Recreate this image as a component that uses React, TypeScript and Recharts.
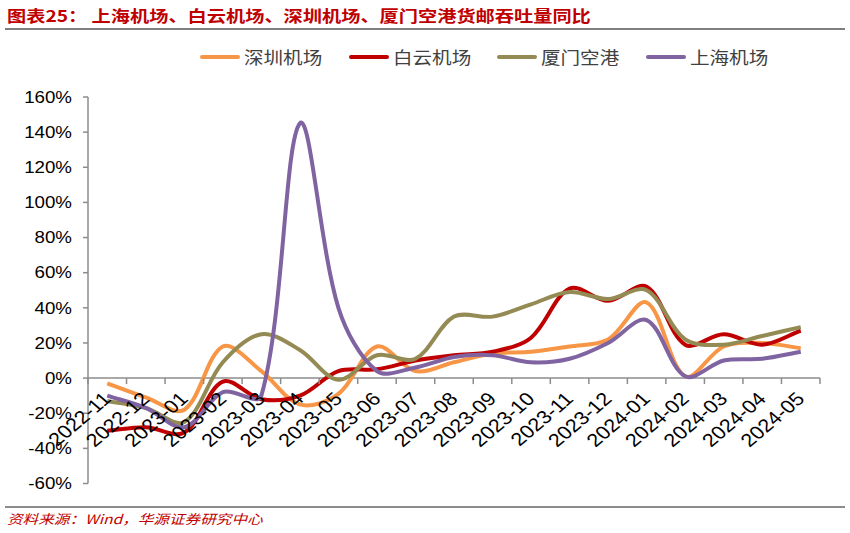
import React from 'react';
import { LineChart, Line, XAxis, YAxis, ReferenceLine } from 'recharts';

const MONTHS = ['2022-11','2022-12','2023-01','2023-02','2023-03','2023-04','2023-05','2023-06','2023-07','2023-08','2023-09','2023-10','2023-11','2023-12','2024-01','2024-02','2024-03','2024-04','2024-05'];
const SHENZHEN = [-3, -11, -18, 18, 4, -15, -9, 18, 4, 9, 14, 15, 18, 22, 43, 1, 18, 20, 17];
const BAIYUN = [-30, -28, -31, -2, -12, -10, 4, 5, 10, 13, 15, 23, 51, 44, 52, 19, 25, 19, 27];
const XIAMEN = [-13, -17, -25, 9, 25, 16, -1, 13, 11, 35, 35, 42, 49, 45, 50, 22, 19, 24, 29];
const SHANGHAI = [-10, -17, -28, -8, -10, 145, 40, 4, 6, 12, 13, 9, 11, 20, 33, 1, 10, 11, 15];
const Y_TICKS = [-60, -40, -20, 0, 20, 40, 60, 80, 100, 120, 140, 160];

const TITLE = '图表25：  上海机场、白云机场、深圳机场、厦门空港货邮吞吐量同比';
const SOURCE = '资料来源：Wind，华源证券研究中心';

const SERIES = [
  { key: 'shenzhen', name: '深圳机场', color: '#F79646', values: SHENZHEN },
  { key: 'baiyun', name: '白云机场', color: '#C00000', values: BAIYUN },
  { key: 'xiamen', name: '厦门空港', color: '#948A54', values: XIAMEN },
  { key: 'shanghai', name: '上海机场', color: '#8064A2', values: SHANGHAI },
];

const data = MONTHS.map((m, i) => {
  const row: any = { month: m };
  SERIES.forEach((s) => { row[s.key] = s.values[i]; });
  return row;
});

// layout
const CHART_W = 850;
const CHART_H = 533;
const Y_AXIS_W = 88;
const X_AXIS_H = 20;
const MARGIN = { top: 97, right: 30, bottom: 29.5, left: 0 };
const PLOT_TOP = MARGIN.top;
const PLOT_BOTTOM = CHART_H - MARGIN.bottom - X_AXIS_H;
const Y_MIN = -60;
const Y_MAX = 160;
const ZERO_Y = PLOT_TOP + (PLOT_BOTTOM - PLOT_TOP) * (Y_MAX - 0) / (Y_MAX - Y_MIN);
const BAND = (CHART_W - MARGIN.right - Y_AXIS_W - MARGIN.left) / MONTHS.length;
const AXIS_COLOR = '#8c8c8c';
const STRETCH = 1.17;
const NUM_FONT = '"Liberation Sans", Arial, sans-serif';
const CJK_FONT = '"Noto Sans CJK SC", "Noto Sans", sans-serif';

// Excel-like smoothing curve (distance weighted Catmull-Rom)
const smoothCurve = (context: any) => {
  let pts: number[][] = [];
  const dist = (a: number[], b: number[]) => Math.hypot(b[0] - a[0], b[1] - a[1]);
  return {
    areaStart() {},
    areaEnd() {},
    lineStart() { pts = []; },
    point(x: number, y: number) { pts.push([+x, +y]); },
    lineEnd() {
      const n = pts.length;
      if (!n) return;
      context.moveTo(pts[0][0], pts[0][1]);
      if (n === 1) return;
      const ctrl = (i: number) => {
        const p = pts[i];
        const prev = pts[i - 1] || p;
        const next = pts[i + 1] || p;
        const d1 = dist(prev, p);
        const d2 = dist(p, next);
        const s = d1 + d2 || 1;
        const tx = next[0] - prev[0];
        const ty = next[1] - prev[1];
        const k = 1 / 3;
        return {
          inC: [p[0] - tx * k * d1 / s, p[1] - ty * k * d1 / s],
          outC: [p[0] + tx * k * d2 / s, p[1] + ty * k * d2 / s],
        };
      };
      for (let i = 0; i < n - 1; i++) {
        const a = ctrl(i).outC;
        const b = ctrl(i + 1).inC;
        context.bezierCurveTo(a[0], a[1], b[0], b[1], pts[i + 1][0], pts[i + 1][1]);
      }
    },
  };
};

const YTick = (props: any) => {
  const { x, y, payload } = props;
  return (
    <g transform={`translate(${x},${y}) scale(${STRETCH},1)`}>
      <text x={0} y={0} dy="0.36em" textAnchor="end" fontSize={16} fill="#000" fontFamily={NUM_FONT}>
        {`${payload.value}%`}
      </text>
    </g>
  );
};

const XTick = (props: any) => {
  const { x, payload, index } = props;
  const last = index === MONTHS.length - 1;
  return (
    <g>
      <line x1={x - BAND / 2} x2={x - BAND / 2} y1={ZERO_Y} y2={ZERO_Y + 6} stroke={AXIS_COLOR} strokeWidth={1.5} />
      {last && (
        <line x1={x + BAND / 2} x2={x + BAND / 2} y1={ZERO_Y} y2={ZERO_Y + 6} stroke={AXIS_COLOR} strokeWidth={1.5} />
      )}
      <g transform={`translate(${x + 5},${ZERO_Y + 22}) scale(${STRETCH},1) rotate(-45)`}>
        <text x={0} y={0} textAnchor="end" fontSize={18.5} fill="#000" fontFamily={NUM_FONT}>
          {payload.value}
        </text>
      </g>
    </g>
  );
};

export default function App() {
  return (
    <div style={{ position: 'absolute', left: 0, top: 0, width: CHART_W, height: CHART_H, background: '#fff', overflow: 'hidden' }}>
      {/* title */}
      <div style={{ position: 'absolute', left: 7, top: 4, whiteSpace: 'nowrap', transform: `scaleX(${1.2})`, transformOrigin: 'left top', color: '#C00000', fontFamily: CJK_FONT, fontWeight: 700, fontSize: 16, lineHeight: '22px' }}>
        {TITLE}
      </div>
      <div style={{ position: 'absolute', left: 5, top: 28, width: 840, height: 2, background: '#7f7f7f' }} />

      {/* legend */}
      {SERIES.map((s, i) => (
        <div key={s.key} style={{ position: 'absolute', left: 200 + i * 148.5, top: 46, height: 22, whiteSpace: 'nowrap' }}>
          <div style={{ position: 'absolute', left: 0, top: 9, width: 40, height: 4, borderRadius: 2, background: s.color }} />
          <div style={{ position: 'absolute', left: 44, top: 0, transform: `scaleX(${1.15})`, transformOrigin: 'left top', fontFamily: CJK_FONT, fontSize: 17, lineHeight: '22px', color: '#404040' }}>
            {s.name}
          </div>
        </div>
      ))}

      <div style={{ position: 'absolute', left: 0, top: 0 }}>
        <LineChart width={CHART_W} height={CHART_H} data={data} margin={MARGIN}>
          <YAxis
            width={Y_AXIS_W}
            domain={[Y_MIN, Y_MAX]}
            ticks={Y_TICKS}
            interval={0}
            allowDataOverflow
            tick={<YTick />}
            tickSize={5}
            tickMargin={11}
            axisLine={{ stroke: AXIS_COLOR, strokeWidth: 1.5 }}
            tickLine={{ stroke: AXIS_COLOR, strokeWidth: 1.5 }}
          />
          <XAxis
            dataKey="month"
            height={X_AXIS_H}
            interval={0}
            padding={{ left: BAND / 2, right: BAND / 2 }}
            axisLine={false}
            tickLine={false}
            tick={<XTick />}
          />
          <ReferenceLine y={0} stroke={AXIS_COLOR} strokeWidth={1.5} />
          {SERIES.map((s) => (
            <Line
              key={s.key}
              dataKey={s.key}
              name={s.name}
              type={smoothCurve as any}
              stroke={s.color}
              strokeWidth={4}
              dot={false}
              activeDot={false}
              isAnimationActive={false}
            />
          ))}
        </LineChart>
      </div>

      {/* source */}
      <div style={{ position: 'absolute', left: 5, top: 506, width: 840, height: 1.5, background: '#8c8c8c' }} />
      <div style={{ position: 'absolute', left: 7, top: 510, whiteSpace: 'nowrap', transform: `scaleX(${1.2})`, transformOrigin: 'left top', color: '#C00000', fontFamily: CJK_FONT, fontStyle: 'italic', fontSize: 13, lineHeight: '18px' }}>
        {SOURCE}
      </div>
    </div>
  );
}
